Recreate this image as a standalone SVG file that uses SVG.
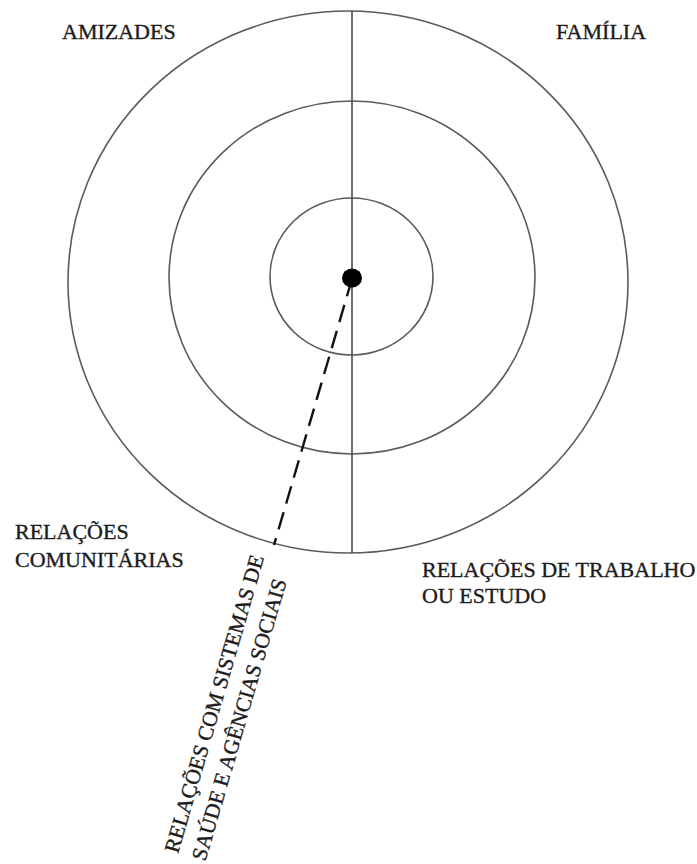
<svg xmlns="http://www.w3.org/2000/svg" width="697" height="864" viewBox="0 0 697 864">
<style>
.ring{fill:none;stroke:#5a5a5a;stroke-width:1.6}
.lbl{font-size:22px;fill:#1c1c1c;stroke:#1c1c1c;stroke-width:0.35}
.rot{font-size:21.5px}
</style>
<rect width="697" height="864" fill="#ffffff"/>
<g id="outer-ring"><ellipse class="ring" cx="348" cy="282" rx="280" ry="271"/></g>
<g id="middle-ring"><ellipse class="ring" cx="352" cy="277.5" rx="183" ry="176.5"/></g>
<g id="inner-ring"><ellipse class="ring" cx="351.5" cy="276.5" rx="81.5" ry="78.5"/></g>
<g id="connectors">
<line x1="352" y1="11" x2="352" y2="553" stroke="#4a4a4a" stroke-width="1.6"/>
<line x1="352" y1="279" x2="274" y2="545" stroke="#111" stroke-width="2.4" stroke-dasharray="18 9"/>
</g>
<g id="center"><ellipse cx="352" cy="278" rx="10" ry="9.5" fill="#000"/></g>
<g font-family="'Liberation Serif', 'DejaVu Serif', serif">
<g id="amizades"><text class="lbl" x="62" y="39">AMIZADES</text></g>
<g id="familia"><text class="lbl" x="556" y="39">FAMÍLIA</text></g>
<g id="comunitarias">
<text class="lbl" x="15" y="539">RELAÇÕES</text>
<text class="lbl" x="15" y="567">COMUNITÁRIAS</text>
</g>
<g id="trabalho">
<text class="lbl" x="422" y="577">RELAÇÕES DE TRABALHO</text>
<text class="lbl" x="422" y="603">OU ESTUDO</text>
</g>
<g id="saude">
<text class="lbl rot" transform="translate(178,854) rotate(-73.8)">RELAÇÕES COM SISTEMAS DE</text>
<text class="lbl rot" transform="translate(205.3,861.8) rotate(-73.8)">SAÚDE E AGÊNCIAS SOCIAIS</text>
</g>
</g>
</svg>
